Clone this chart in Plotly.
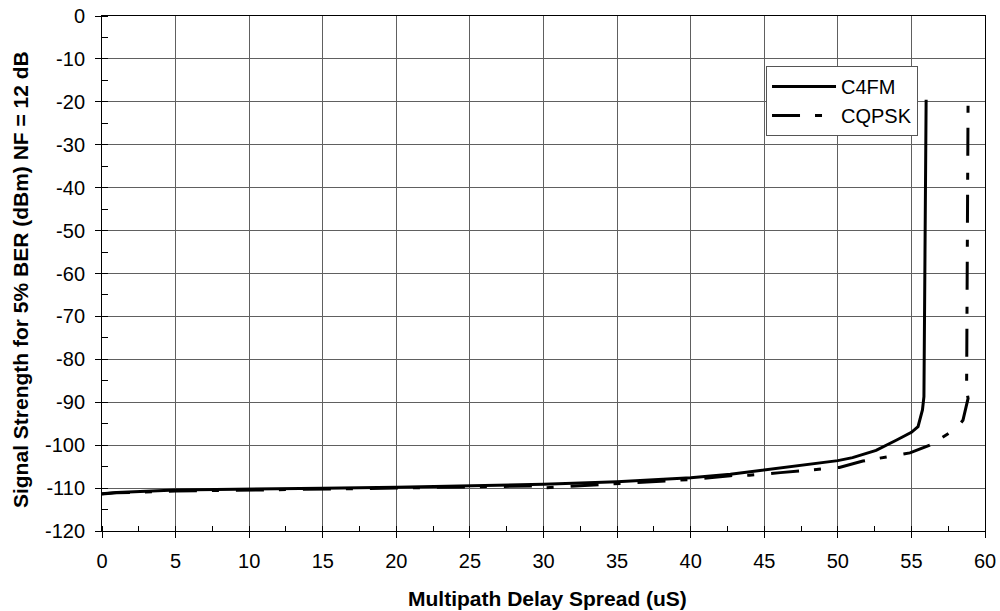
import plotly.graph_objects as go

# Multipath delay spread (uS) vs. signal strength needed for 5% BER (dBm)
c4fm_delay = [0, 1, 5, 10, 15, 20, 25, 30, 35, 40, 42.7, 45, 47.2, 50, 51, 52.6, 54, 55, 55.45, 55.75, 55.85, 55.9, 56.0]
c4fm_level = [-111.3, -111.0, -110.45, -110.3, -110.06, -109.8, -109.5, -109.1, -108.5, -107.6, -106.8, -105.8, -104.9, -103.6, -102.9, -101.2, -98.8, -97.0, -95.7, -91.8, -88.7, -63.8, -19.5]

cqpsk_delay = [0, 1, 5, 10, 15, 20, 25, 29.8, 30.2, 35, 40, 42.7, 44, 46.1, 48.3, 50.1, 51.7, 53.3, 54.9, 56.25, 57.15, 58.06, 58.5, 58.85, 58.75, 58.8, 58.85]
cqpsk_level = [-111.4, -111.1, -110.7, -110.5, -110.2, -110.0, -109.7, -109.5, -109.9, -108.9, -108.0, -107.1, -107.0, -106.4, -105.7, -105.2, -103.7, -102.7, -101.8, -100.0, -98.1, -96.1, -94.2, -89.1, -87.2, -60.0, -19.5]

x_ticks = list(range(0, 61, 5))
y_ticks = list(range(-120, 1, 10))

FONT = "Liberation Sans, Arial, sans-serif"

fig = go.Figure()
fig.add_trace(go.Scatter(
    x=c4fm_delay, y=c4fm_level, name="C4FM", mode="lines",
    line=dict(color="black", width=3), legendgroup="a",
))
fig.add_trace(go.Scatter(
    x=cqpsk_delay, y=cqpsk_level, name="CQPSK", mode="lines",
    line=dict(color="black", width=3, dash="28px,15px,7px,17px"), legendgroup="b",
))

axis_common = dict(
    showline=True, linecolor="black", linewidth=1, mirror=True,
    showgrid=True, gridcolor="#606060", gridwidth=1,
    zeroline=False, automargin=False,
    ticks="outside", ticklen=6, tickcolor="black", tickwidth=1,
    tickfont=dict(family=FONT, size=20, color="black"),
)

fig.update_xaxes(
    range=[0, 60], tickvals=x_ticks, ticktext=[str(v) for v in x_ticks],
    ticklabelstandoff=6,
    minor=dict(dtick=2.5, tick0=0, ticks="inside", ticklen=5, tickcolor="black", showgrid=False),
    **axis_common,
)
fig.update_yaxes(
    range=[-120, 0], tickvals=y_ticks, ticktext=[str(v) for v in y_ticks],
    ticklabelstandoff=6,
    minor=dict(dtick=5, tick0=0, ticks="inside", ticklen=6, tickcolor="black", showgrid=False),
    **axis_common,
)

fig.add_annotation(
    text="<b>Multipath Delay Spread (uS)</b>", xref="paper", yref="paper",
    x=0.505, y=-0.132, xanchor="center", yanchor="middle", showarrow=False,
    font=dict(family=FONT, size=21, color="black"),
)
fig.add_annotation(
    text="<b>Signal Strength for 5% BER (dBm) NF = 12 dB</b>", xref="paper", yref="paper",
    x=-0.093, y=0.489, xanchor="center", yanchor="middle", textangle=-90, showarrow=False,
    font=dict(family=FONT, size=21, color="black"),
)

fig.update_layout(
    width=1000, height=611,
    margin=dict(l=102, r=15, t=16, b=80),
    paper_bgcolor="white", plot_bgcolor="white",
    showlegend=True,
    legend=dict(
        x=0.752, y=0.903, xanchor="left", yanchor="top",
        bgcolor="white", bordercolor="#555555", borderwidth=1,
        font=dict(family=FONT, size=20, color="black"),
        itemwidth=64, traceorder="grouped", tracegroupgap=0,
    ),
)

fig.write_html("out.html")
